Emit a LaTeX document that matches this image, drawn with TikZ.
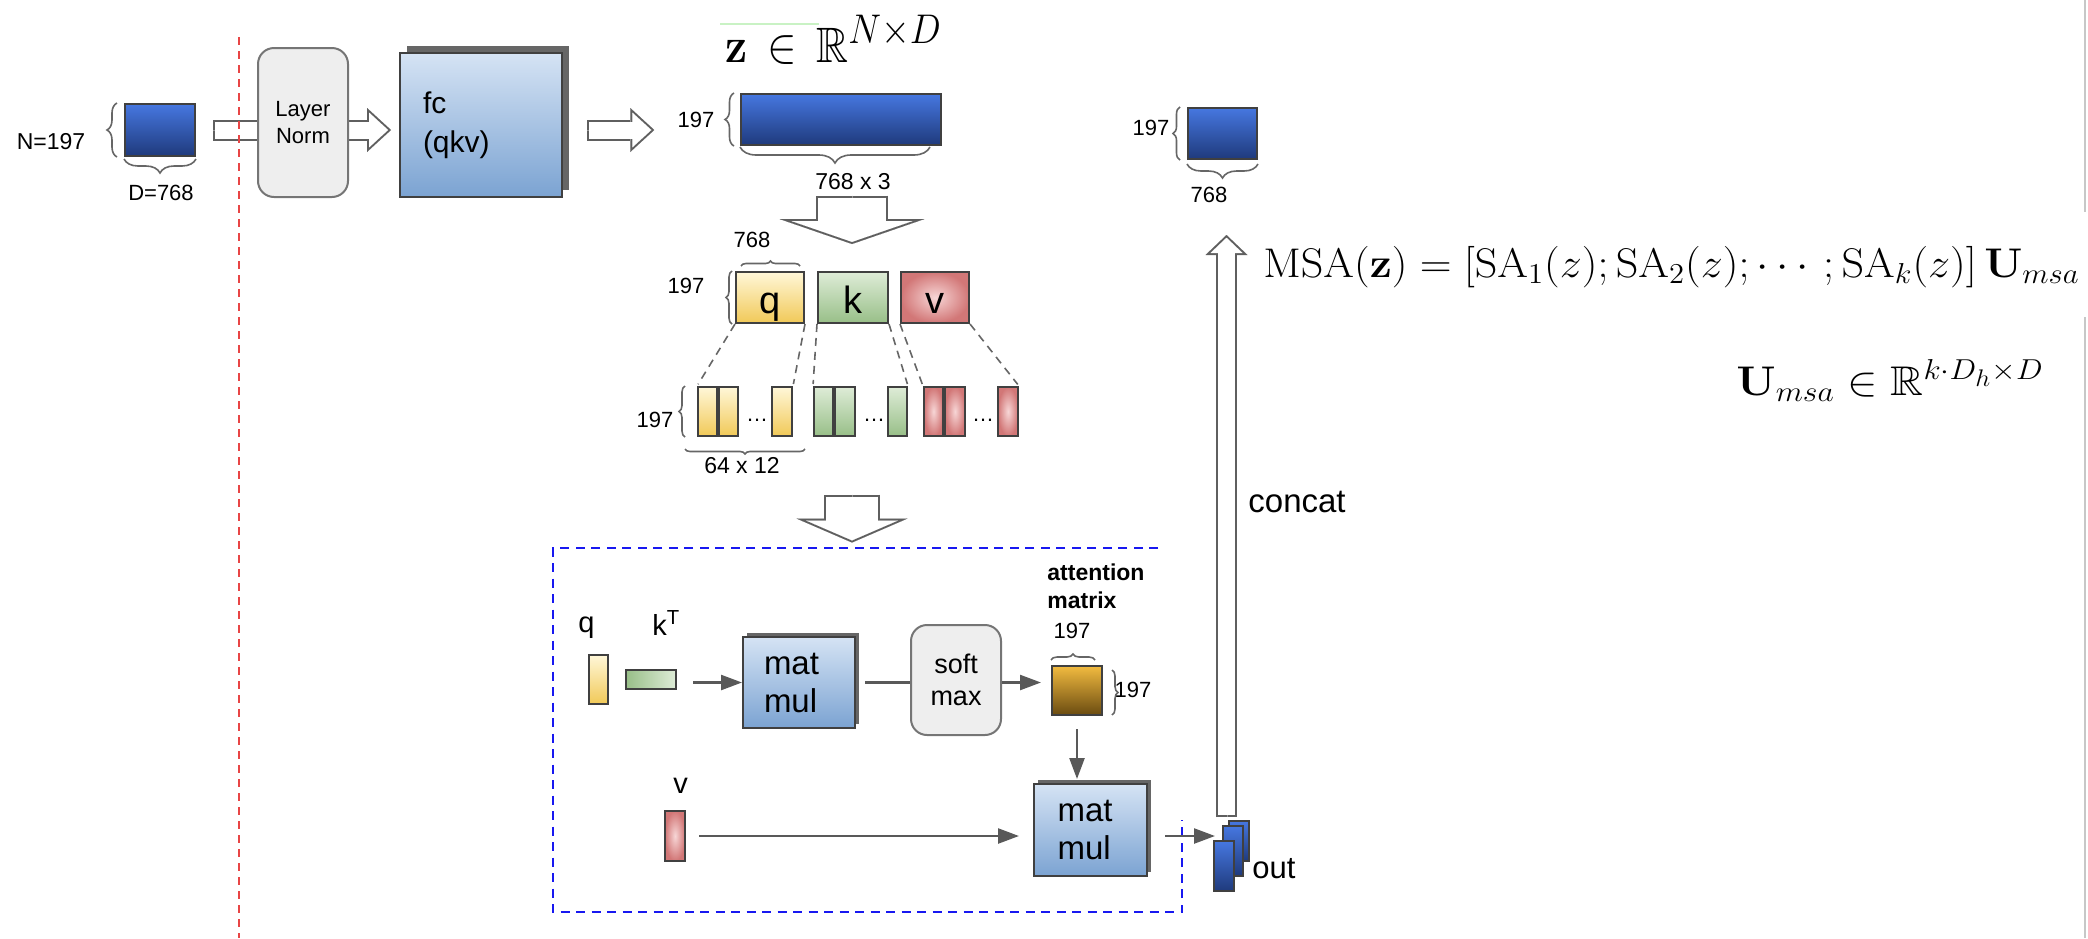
\documentclass[tikz,border=0pt]{standalone}
\usepackage{amsmath,amssymb}
\usepackage{graphicx}
\usepackage[no-math]{fontspec}
\setmainfont{Liberation Sans}
\usetikzlibrary{arrows.meta, positioning, calc, decorations.pathreplacing, shadows, backgrounds}

\definecolor{edgegray}{HTML}{404040}
\definecolor{arrgray}{HTML}{5F5F5F}
\definecolor{conngray}{HTML}{595959}
\definecolor{bracegray}{HTML}{666666}
\definecolor{bluetop}{HTML}{4677E0}
\definecolor{bluebot}{HTML}{1F3A7C}
\definecolor{fctop}{HTML}{D5E3F4}
\definecolor{fcbot}{HTML}{7BA3D2}
\definecolor{normfill}{HTML}{EEEEEE}
\definecolor{normedge}{HTML}{757575}
\definecolor{qtop}{HTML}{FFF7D8}
\definecolor{qbot}{HTML}{F1C958}
\definecolor{ktop}{HTML}{DEECD7}
\definecolor{kbot}{HTML}{98BF88}
\definecolor{vin}{HTML}{F7D6D6}
\definecolor{vout}{HTML}{D27777}
\definecolor{atttop}{HTML}{F2BB40}
\definecolor{attbot}{HTML}{6A4B10}
\definecolor{cutred}{HTML}{E84545}
\definecolor{headblue}{HTML}{1818F0}

\newcommand{\blockarrow}[5]{%
  \pgfmathsetmacro{\bkin}{#1-2}%
  \pgfmathsetmacro{\bkback}{1/sin(atan(#2/(2*#3)))}%
  \pgfmathsetmacro{\bklen}{#3-\bkback-1}%
  \pgfmathsetmacro{\bkwid}{#2*\bklen/#3}%
  \pgfmathsetmacro{\bkcut}{#3-1.4}%
  \draw[arrgray, line width=#1pt, shorten >=#3pt] #4 -- #5;
  \draw[arrgray, line width=0.01pt, -{Triangle[width=#2pt, length=#3pt]}] #4 -- #5;
  \draw[white, line width=\bkin pt, shorten <=1pt, shorten >=\bkcut pt] #4 -- #5;
  \draw[white, line width=0.01pt, shorten >=\bkback pt, -{Triangle[width=\bkwid pt, length=\bklen pt]}] #4 -- #5;
}

\begin{document}
\begin{tikzpicture}[x=0.5pt, y=-0.5pt,
  sz/.style 2 args={minimum width=#1*0.5pt, minimum height=#2*0.5pt},
  lab/.style={inner sep=0pt, font=\fontsize{11}{13}\selectfont},
  biglab/.style={inner sep=0pt, anchor=base west, font=\fontsize{14.5}{17}\selectfont},
  mathlab/.style={inner sep=0pt, anchor=base west, font=\fontsize{20.74}{24}\selectfont},
  tensor/.style={draw=edgegray, line width=1pt, top color=bluetop, bottom color=bluebot,
                 inner sep=0pt, anchor=north west},
  lnbox/.style={draw=normedge, line width=1pt, fill=normfill, rounded corners=8pt,
                inner sep=0pt, anchor=north west, align=center},
  fcbox/.style={draw=edgegray, line width=1pt, top color=fctop, bottom color=fcbot,
                general shadow={fill=black!60, shadow xshift=#1, shadow yshift=#1},
                anchor=north west, align=left, inner ysep=0pt},
  qbox/.style={draw=edgegray, line width=1pt, top color=qtop, bottom color=qbot,
               inner sep=0pt, anchor=north west},
  kbox/.style={draw=edgegray, line width=1pt, top color=ktop, bottom color=kbot,
               inner sep=0pt, anchor=north west},
  vbox/.style={draw=edgegray, line width=1pt, inner color=vin, outer color=vout,
               inner sep=0pt, anchor=north west},
  letter/.style={font=\fontsize{19}{22}\selectfont, text height=15.5pt, text depth=0pt},
  split/.style={draw=black!60, line width=0.8pt, dash pattern=on 4pt off 3pt, shorten >=1pt},
  brc/.style 2 args={draw=bracegray, line width=0.8pt, decorate,
                     decoration={brace, amplitude=#1, raise=#2}},
  arr/.style={draw=conngray, line width=1.2pt, -{Triangle[length=10.5pt, width=7.5pt]}},
]
\useasboundingbox (0,0) rectangle (2088,938);

\draw[cutred, line width=1.3pt, dash pattern=on 4pt off 3pt] (239,37) -- (239,938);

\node[tensor, sz={70}{52}] (x0) at (124,103) {};
\node[lab, font=\fontsize{11.5}{13}\selectfont] (x0n) at (51,142) {N=197};
\draw[brc={5pt}{3.5pt}] (x0.south west) -- (x0.north west);
\draw[brc={7pt}{1pt}] (x0.south east) -- (x0.south west);
\node[lab] (x0d) at (161,193) {D=768};

\node[lnbox, sz={90}{149}, font=\fontsize{11}{13.5}\selectfont] (ln) at (257,47) {Layer\\Norm};
\node[fcbox=3.5pt, minimum width=81pt, minimum height=72pt, text width=58pt, inner xsep=11.5pt,
      font=\fontsize{15}{19.5}\selectfont] (fc) at (399,52) {fc\\(qkv)};

\node[tensor, sz={200}{51}] (z0) at (740,93) {};
\node[lab] (z0n) at (696,120) {197};
\draw[brc={4.5pt}{3pt}] (z0.south west) -- (z0.north west);
\draw[brc={8pt}{0.5pt}] ($(z0.south east)+(-12,0)$) -- (z0.south west);
\node[lab, font=\fontsize{11.5}{13}\selectfont] (z0d) at (853,182) {768 x 3};
\draw[draw={rgb,255:red,201;green,242;blue,196}, line width=0.6pt] (720,24) -- (819,24);
\node[mathlab, font=\fontsize{24.88}{28}\selectfont] (zeq) at (725,62)
  {\scalebox{0.89}[1]{$\mathbf{z}\,\in\,\mathbb{R}^{N\times D}$}};

\begin{scope}[on background layer]
\blockarrow{10.5}{22}{12}{($(x0.east)+(17,0)$)}{($(x0.east -| fc.west)+(-8,0)$)}
\end{scope}
\blockarrow{10.5}{22}{12}{($(x0.east -| fc.east)+(24,0)$)}{($(x0.east -| z0n.west)+(-23,0)$)}

\node[qbox, sz={68}{51}, letter] (q) at (735,271) {q};
\node[kbox, sz={70}{51}, letter] (k) at (817,271) {k};
\node[vbox, sz={68}{51}, letter] (v) at (900,271) {v};
\blockarrow{36}{72.5}{12.5}{($(z0d.south)+(-1,5)$)}{($(z0d.south |- q.north)+(-1,-27)$)}
\node[lab] (qw) at (752,240) {768};
\draw[brc={2.5pt}{2.5pt}] ($(q.north west)+(6,0)$) -- ($(q.north east)+(-5,0)$);
\node[lab] (qh) at (686,286) {197};
\draw[brc={3pt}{1.5pt}] (q.south west) -- (q.north west);

\node[qbox, sz={19}{49}] (qa) at (697,386) {};
\node[qbox, sz={19}{49}] (qb) at (718,386) {};
\node[qbox, sz={20}{49}] (qc) at (771,386) {};
\node[kbox, sz={19}{49}] (ka) at (813,386) {};
\node[kbox, sz={20}{49}] (kb) at (834,386) {};
\node[kbox, sz={19}{49}] (kc) at (887,386) {};
\node[vbox, sz={19}{49}] (va) at (923,386) {};
\node[vbox, sz={20}{49}] (vb) at (944,386) {};
\node[vbox, sz={20}{49}] (vc) at (997,386) {};
\node[lab, anchor=base] (qdots) at (757,421) {\dots};
\node[lab, anchor=base] (kdots) at (874,421) {\dots};
\node[lab, anchor=base] (vdots) at (983,421) {\dots};

\draw[split] (q.south west) -- (qa.north west);
\draw[split] (q.south east) -- (qc.north east);
\draw[split] (k.south west) -- (ka.north west);
\draw[split] (k.south east) -- (kc.north east);
\draw[split] (v.south west) -- (va.north west);
\draw[split] (v.south east) -- (vc.north east);

\node[lab] (bh) at (655,420) {197};
\draw[brc={3pt}{6pt}] (qa.south west) -- (qa.north west);
\draw[brc={2.5pt}{6pt}] ($(qc.south east)+(12,0)$) -- ($(qa.south west)+(-12,0)$);
\node[lab, font=\fontsize{11.5}{13}\selectfont] (bw) at (742,466) {64 x 12};

\blockarrow{28}{55.5}{12}{($(bw.south -| k.south)+(-1,20)$)}{($(bw.south -| k.south)+(-1,68)$)}

\draw[headblue, line width=1.3pt, dash pattern=on 4.5pt off 3.25pt]
  (1158,548) -- (553,548) -- (553,912) -- (1182,912) -- (1182,820);

\node[qbox, sz={19}{49}] (qs) at (588,654) {};
\node[biglab] (ql) at (578,632) {q};
\node[draw=edgegray, line width=1pt, left color=kbot, right color=ktop, inner sep=0pt,
      anchor=north west, sz={50}{19}] (ks) at (625,669) {};
\node[biglab] (kl) at (652,635) {k\textsuperscript{T}};
\node[fcbox=2pt, minimum width=56pt, minimum height=45.5pt, text width=35pt, inner xsep=10.5pt,
      font=\fontsize{16.5}{19}\selectfont] (mm1) at (742,636) {mat\\mul};
\node[lnbox, sz={90}{110}, font=\fontsize{13.5}{16}\selectfont] (sm) at (910,624) {soft\\max};
\node[draw=edgegray, line width=1pt, top color=atttop, bottom color=attbot, inner sep=0pt,
      anchor=north west, sz={50}{49}] (att) at (1051,665) {};
\node[inner sep=0pt, anchor=base west, align=left,
      font=\fontsize{11.5}{14}\selectfont\bfseries] (attl) at (1047,608) {attention\\matrix};
\node[lab] (atw) at (1072,631) {197};
\draw[brc={3pt}{2.5pt}] (att.north west) -- ($(att.north east)+(-8,0)$);
\draw[brc={3pt}{4.5pt}] ($(att.north east)+(0,5)$) -- ($(att.south east)+(0,-1)$);
\node[lab] (ath) at (1133,690) {197};
\node[fcbox=2pt, minimum width=56.5pt, minimum height=46pt, text width=33pt, inner xsep=11.75pt,
      font=\fontsize{16.5}{19}\selectfont] (mm2) at (1033,783) {mat\\mul};
\node[vbox, sz={20}{50}] (vs) at (664,810) {};
\node[biglab] (vl) at (673,793) {v};

\node[tensor, sz={20}{40}] (o3) at (1228,820) {};
\node[tensor, sz={20}{50}] (o2) at (1222,825) {};
\node[tensor, sz={20}{50}] (o1) at (1213,840) {};
\node[inner sep=0pt, anchor=base west, font=\fontsize{15.5}{18}\selectfont] (ol) at (1252,878) {out};

\draw[arr, shorten <=8pt] (ks.east |- mm1.west) -- (mm1.west);
\draw[draw=conngray, line width=1.2pt, shorten <=4.5pt] (mm1.east) -- (mm1.east -| sm.west);
\draw[arr, shorten >=5pt] (mm1.east -| sm.east) -- (mm1.east -| att.west);
\draw[arr, shorten <=6.5pt, shorten >=2pt] (att.south) -- (att.south |- mm2.north);
\draw[arr, shorten <=6.5pt, shorten >=7pt] (vs.east) -- (vs.east -| mm2.west);
\draw[arr, shorten <=8.5pt, shorten >=3.5pt] (mm2.east |- vs.east) -- (vs.east -| o2.west);

\node[tensor, sz={69}{51}] (y1) at (1187,107) {};
\node[lab] (y1n) at (1151,128) {197};
\draw[brc={3.5pt}{3.5pt}] (y1.south west) -- (y1.north west);
\draw[brc={7pt}{2pt}] (y1.south east) -- (y1.south west);
\node[lab] (y1d) at (1209,195) {768};

\coordinate (catlow) at (1226.5,817);
\coordinate (cathigh) at (1226.5,235);
\blockarrow{10.5}{21}{10}{(catlow)}{(cathigh)}
\node[inner sep=0pt, anchor=base west, font=\fontsize{16.5}{19}\selectfont] (cat) at (1248,512) {concat};

\node[mathlab] (msa) at (1263,277)
  {\scalebox{1.065}[1]{$\mathrm{MSA}(\mathbf{z}) = [\mathrm{SA}_1(z); \mathrm{SA}_2(z); \cdots; \mathrm{SA}_k(z)]\,\mathbf{U}_{msa}$}};
\node[mathlab] (umsa) at (1736,395) {\scalebox{1.1}[1]{$\mathbf{U}_{msa} \in \mathbb{R}^{k\cdot D_h \times D}$}};

\draw[black!22, line width=1pt] (2085,0) -- (2085,212);
\draw[black!22, line width=1pt] (2085,317) -- (2085,938);
\end{tikzpicture}
\end{document}
